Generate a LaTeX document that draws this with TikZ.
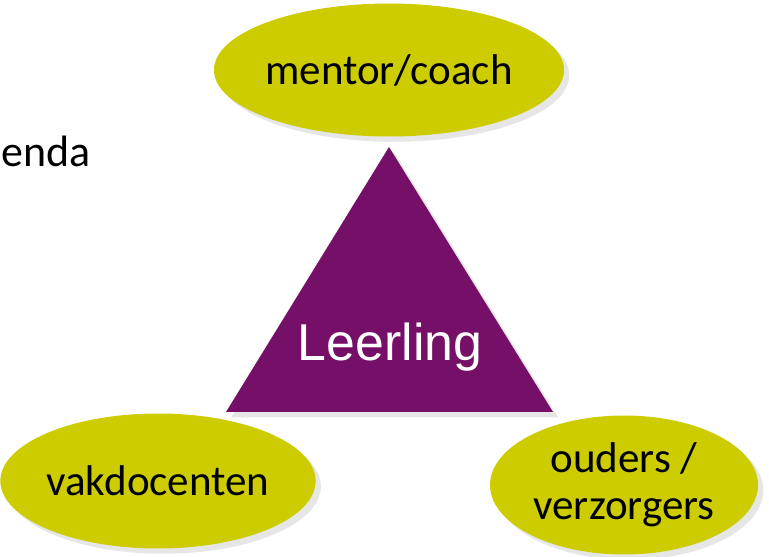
\documentclass[tikz,border=0pt]{standalone}
\usepackage{fontspec}
\setmainfont{Carlito}
\newfontfamily\arialfont{Liberation Sans}
\usepackage{tikz}
\usetikzlibrary{positioning, shapes.geometric, shadows}

\definecolor{olijf}{RGB}{204,204,0}
\definecolor{paars}{RGB}{118,15,104}

\begin{document}
\begin{tikzpicture}[
        x=0.02cm, y=-0.02cm,
        role/.style={ellipse, fill=olijf, inner sep=0pt, align=center,
                     font=\fontsize{24.5}{26.5}\selectfont,
                     drop shadow={shadow xshift=3pt, shadow yshift=-3pt, opacity=0.2}},
        leerling/.style={fill=paars,
                     drop shadow={shadow xshift=3pt, shadow yshift=-3pt, opacity=0.2}},
        label/.style={text=white, font=\arialfont\fontsize{29.5}{30}\selectfont}
    ]
        \useasboundingbox (0,0) rectangle (769,557);

        % triangle
        \coordinate (top) at (389,147);
        \coordinate (left) at (226,412);
        \coordinate (right) at (553,412);
        \fill[leerling] (top) -- (right) -- (left) -- cycle;
        \node[label] (pupil) at (390,347) {Leerling};

        \node[role, minimum width=5.54cm, minimum height=2.66cm] (mentor) at (389,70) {mentor/coach};
        \node[role, minimum width=5.54cm, minimum height=2.70cm] (vak) at (158,481) {vakdocenten};
        \node[role, minimum width=5.36cm, minimum height=2.78cm] (ouders) at (624,485) {ouders /\\verzorgers};

        \node[anchor=base east, inner sep=0pt, font=\fontsize{25}{26}\selectfont] (agenda) at (91,167) {enda};
\end{tikzpicture}
\end{document}
